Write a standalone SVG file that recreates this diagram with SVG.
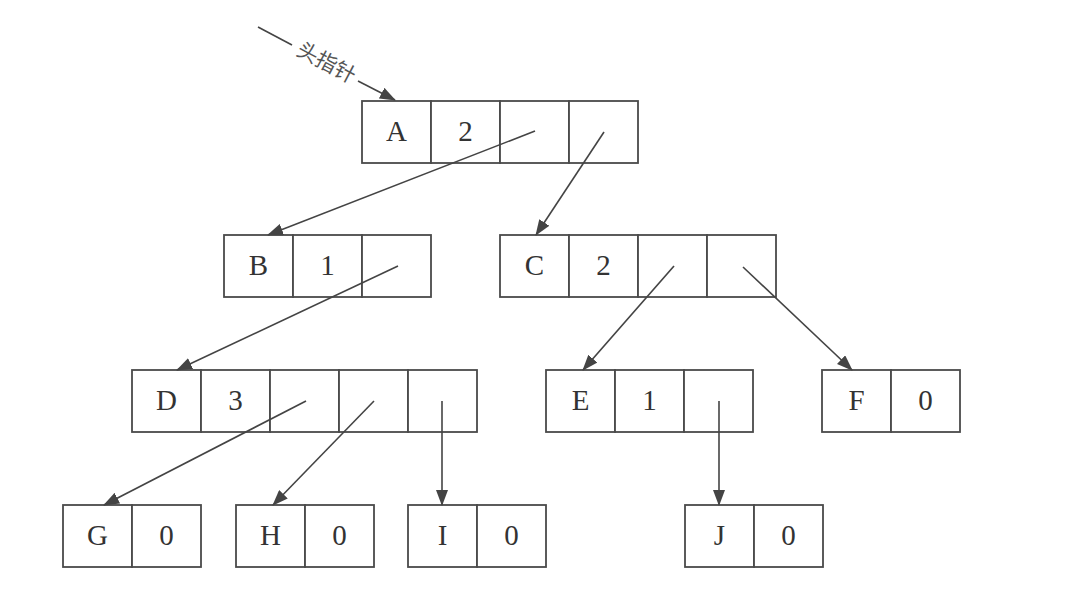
<svg xmlns="http://www.w3.org/2000/svg" width="1091" height="614" viewBox="0 0 1091 614">
<style>
.cell{fill:#fff;stroke:#4a4a4a;stroke-width:1.8}
.t{font-family:"Liberation Serif","Times New Roman",serif;font-size:29px;fill:#333;text-anchor:middle}
.e{stroke:#444;stroke-width:1.6;fill:none;marker-end:url(#ah)}
.lbl{font-family:"Noto Sans CJK SC",sans-serif;font-size:21px;fill:#555;text-anchor:middle}
</style>
<defs>
<marker id="ah" markerWidth="16" markerHeight="12" refX="15" refY="6" orient="auto" markerUnits="userSpaceOnUse">
<path d="M0,0 L16,6 L0,12 Z" fill="#444"/>
</marker>
</defs>
<rect width="1091" height="614" fill="#fff"/>

<g id="A">
<rect class="cell" x="362" y="101" width="69" height="62"/><rect class="cell" x="431" y="101" width="69" height="62"/><rect class="cell" x="500" y="101" width="69" height="62"/><rect class="cell" x="569" y="101" width="69" height="62"/>
<text class="t" x="396.5" y="141">A</text><text class="t" x="465.5" y="141">2</text>
</g>
<g id="B">
<rect class="cell" x="224" y="235" width="69" height="62"/><rect class="cell" x="293" y="235" width="69" height="62"/><rect class="cell" x="362" y="235" width="69" height="62"/>
<text class="t" x="258.5" y="275">B</text><text class="t" x="327.5" y="275">1</text>
</g>
<g id="C">
<rect class="cell" x="500" y="235" width="69" height="62"/><rect class="cell" x="569" y="235" width="69" height="62"/><rect class="cell" x="638" y="235" width="69" height="62"/><rect class="cell" x="707" y="235" width="69" height="62"/>
<text class="t" x="534.5" y="275">C</text><text class="t" x="603.5" y="275">2</text>
</g>
<g id="D">
<rect class="cell" x="132" y="370" width="69" height="62"/><rect class="cell" x="201" y="370" width="69" height="62"/><rect class="cell" x="270" y="370" width="69" height="62"/><rect class="cell" x="339" y="370" width="69" height="62"/><rect class="cell" x="408" y="370" width="69" height="62"/>
<text class="t" x="166.5" y="410">D</text><text class="t" x="235.5" y="410">3</text>
</g>
<g id="E">
<rect class="cell" x="546" y="370" width="69" height="62"/><rect class="cell" x="615" y="370" width="69" height="62"/><rect class="cell" x="684" y="370" width="69" height="62"/>
<text class="t" x="580.5" y="410">E</text><text class="t" x="649.5" y="410">1</text>
</g>
<g id="F">
<rect class="cell" x="822" y="370" width="69" height="62"/><rect class="cell" x="891" y="370" width="69" height="62"/>
<text class="t" x="856.5" y="410">F</text><text class="t" x="925.5" y="410">0</text>
</g>
<g id="G">
<rect class="cell" x="63" y="505" width="69" height="62"/><rect class="cell" x="132" y="505" width="69" height="62"/>
<text class="t" x="97.5" y="545">G</text><text class="t" x="166.5" y="545">0</text>
</g>
<g id="H">
<rect class="cell" x="236" y="505" width="69" height="62"/><rect class="cell" x="305" y="505" width="69" height="62"/>
<text class="t" x="270.5" y="545">H</text><text class="t" x="339.5" y="545">0</text>
</g>
<g id="I">
<rect class="cell" x="408" y="505" width="69" height="62"/><rect class="cell" x="477" y="505" width="69" height="62"/>
<text class="t" x="442.5" y="545">I</text><text class="t" x="511.5" y="545">0</text>
</g>
<g id="J">
<rect class="cell" x="685" y="505" width="69" height="62"/><rect class="cell" x="754" y="505" width="69" height="62"/>
<text class="t" x="719.5" y="545">J</text><text class="t" x="788.5" y="545">0</text>
</g>

<g id="connectors">
<line x1="258" y1="27" x2="292" y2="45" stroke="#444" stroke-width="1.6"/>
<line class="e" x1="358" y1="81" x2="395" y2="100"/>
<text class="lbl" transform="translate(323,69) rotate(28)">头指针</text>
<line class="e" x1="535" y1="131" x2="268" y2="235"/>
<line class="e" x1="604" y1="132" x2="536" y2="235"/>
<line class="e" x1="398" y1="266" x2="177" y2="370"/>
<line class="e" x1="674" y1="266" x2="583" y2="370"/>
<line class="e" x1="743" y1="267" x2="852" y2="370"/>
<line class="e" x1="306" y1="401" x2="104" y2="505"/>
<line class="e" x1="374" y1="401" x2="273" y2="505"/>
<line class="e" x1="442" y1="401" x2="442" y2="505"/>
<line class="e" x1="719" y1="401" x2="719" y2="505"/>
</g>
</svg>
